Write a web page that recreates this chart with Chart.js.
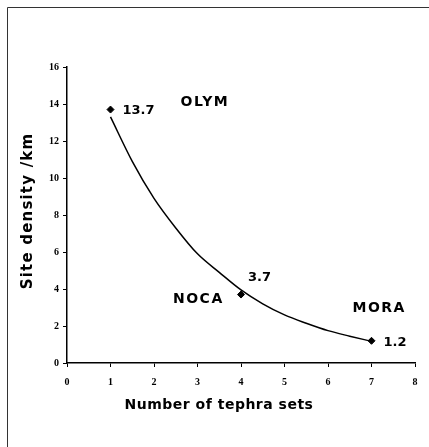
<!DOCTYPE html>
<html>
<head>
<meta charset="utf-8">
<script src="https://cdn.jsdelivr.net/npm/chart.js@4.4.0/dist/chart.umd.min.js"></script>
<style>
  html, body { margin: 0; padding: 0; background: #fff; }
  #wrap { position: relative; width: 429px; height: 447px; }
</style>
</head>
<body>
<div id="wrap"><canvas id="chart" width="429" height="447"></canvas></div>
<script>
// observed sites
var sites = ["OLYM", "NOCA", "MORA"];
var tephraSets = [1, 4, 7];
var density = [13.7, 3.7, 1.2];

// trend curve
var trendX = [1, 1.5, 2, 2.5, 3, 3.5, 4, 4.5, 5, 5.5, 6, 6.5, 7];
var trendY = [13.3, 10.9, 8.9, 7.3, 5.9, 4.9, 3.95, 3.2, 2.6, 2.15, 1.75, 1.45, 1.17];

var xTicks = [0, 1, 2, 3, 4, 5, 6, 7, 8];
var yTicks = [0, 2, 4, 6, 8, 10, 12, 14, 16];

var xTitle = "Number of tephra sets";
var yTitle = "Site density /km";

var points = tephraSets.map(function (x, i) { return { x: x, y: density[i] }; });
var trend = trendX.map(function (x, i) { return { x: x, y: trendY[i] }; });

// label offsets in pixels relative to each point: value label, site label
var labelPos = [
    { val: [12, 1], name: [70, -7] },
    { val: [7, -17], name: [-68, 5] },
    { val: [12, 2], name: [-19, -32] }
];

var labelPlugin = {
    id: 'labels',
    afterDraw: function (chart) {
        var ctx = chart.ctx;
        var xs = chart.scales.x, ys = chart.scales.y;
        ctx.save();
        ctx.fillStyle = '#000';
        ctx.textBaseline = 'middle';
        ctx.textAlign = 'left';
        for (var i = 0; i < tephraSets.length; i++) {
            var px = xs.getPixelForValue(tephraSets[i]);
            var py = ys.getPixelForValue(density[i]);
            var p = labelPos[i];
            ctx.font = 'bold 13px "DejaVu Sans", Verdana, sans-serif';
            ctx.letterSpacing = '0px';
            ctx.fillText(String(density[i]), px + p.val[0], py + p.val[1]);
            ctx.font = 'bold 14px "DejaVu Sans", Verdana, sans-serif';
            ctx.letterSpacing = '1.5px';
            ctx.fillText(sites[i], px + p.name[0], py + p.name[1]);
        }

        // axis titles
        ctx.textAlign = 'center';
        ctx.font = 'bold 14px "DejaVu Sans", Verdana, sans-serif';
        ctx.letterSpacing = '0.5px';
        ctx.fillText(xTitle, 219, 405);
        ctx.translate(28, 211);
        ctx.rotate(-Math.PI / 2);
        ctx.font = 'bold 15px "DejaVu Sans", Verdana, sans-serif';
        ctx.letterSpacing = '1.2px';
        ctx.fillText(yTitle, 0, 0);
        ctx.restore();

        // frame of the picture (left and top edges)
        ctx.save();
        ctx.strokeStyle = '#333';
        ctx.lineWidth = 1;
        ctx.beginPath();
        ctx.moveTo(7.5, 447);
        ctx.lineTo(7.5, 7.5);
        ctx.lineTo(429, 7.5);
        ctx.stroke();
        ctx.restore();
    }
};

new Chart(document.getElementById('chart'), {
    type: 'scatter',
    data: {
        datasets: [{
            label: 'trend',
            data: trend,
            showLine: true,
            borderColor: '#000',
            borderWidth: 1.5,
            pointRadius: 0,
            cubicInterpolationMode: 'monotone',
            order: 2
        }, {
            label: 'sites',
            data: points,
            backgroundColor: '#000',
            borderColor: '#000',
            pointStyle: 'rectRot',
            pointRadius: 3.5,
            order: 1
        }]
    },
    options: {
        responsive: false,
        animation: false,
        layout: { padding: { left: 0, top: 67, right: 14, bottom: 0 } },
        plugins: {
            legend: { display: false },
            tooltip: { enabled: false }
        },
        scales: {
            x: {
                type: 'linear',
                min: 0,
                max: 8,
                afterBuildTicks: function (s) { s.ticks = xTicks.map(function (v) { return { value: v }; }); },
                afterFit: function (s) { s.height = 84; },
                grid: { drawOnChartArea: false, color: '#000', tickLength: 4, lineWidth: 1 },
                border: { color: '#000', width: 1.5 },
                ticks: { color: '#000', padding: 9, font: { family: '"Liberation Serif", serif', size: 10, weight: 'bold' } }
            },
            y: {
                type: 'linear',
                min: 0,
                max: 16,
                afterBuildTicks: function (s) { s.ticks = yTicks.map(function (v) { return { value: v }; }); },
                afterFit: function (s) { s.width = 67; },
                grid: { drawOnChartArea: false, color: '#000', tickLength: 4, lineWidth: 1 },
                border: { color: '#000', width: 1.5 },
                ticks: { color: '#000', padding: 4, font: { family: '"Liberation Serif", serif', size: 10, weight: 'bold' } }
            }
        }
    },
    plugins: [labelPlugin]
});
</script>
</body>
</html>
